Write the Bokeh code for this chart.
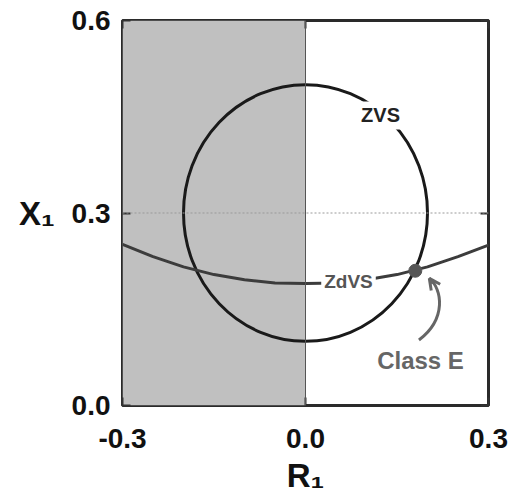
from bokeh.plotting import figure
from bokeh.models import (Range1d, FixedTicker, LinearAxis, Label, Span,
                          BoxAnnotation, Arrow, OpenHead)
from bokeh.embed import file_html
from bokeh.resources import INLINE

# ---- data ----
x_ticks = [-0.3, 0.0, 0.3]
y_ticks = [0.0, 0.3, 0.6]
x_tick_labels = ["-0.3", "0.0", "0.3"]
y_tick_labels = ["0.0", "0.3", "0.6"]
x_title = "R\u2081"
y_title = "X\u2081"

# ZVS circle (centre, diameter)
zvs_cx = [0.0]
zvs_cy = [0.3]
zvs_d = [0.4]

# ZdVS curve
zdvs_r = [-0.3, -0.25, -0.2, -0.15, -0.1, -0.05, 0.0, 0.05, 0.1, 0.15, 0.2, 0.25, 0.3]
zdvs_x = [0.251, 0.232, 0.216, 0.204, 0.196, 0.191, 0.190, 0.191, 0.196, 0.204, 0.216, 0.232, 0.250]

# Class E point
classE_r = [0.18]
classE_x = [0.21]

# Arrow path (start, controls, end) in data units
arr_x0, arr_y0 = [0.186], [0.102]
arr_cx0, arr_cy0 = [0.232], [0.135]
arr_cx1, arr_cy1 = [0.224], [0.182]
arr_x1, arr_y1 = [0.203], [0.198]

FONT = "Liberation Sans"

p = figure(width=512, height=501, x_range=Range1d(-0.3, 0.3), y_range=Range1d(0, 0.6),
           output_backend="svg", toolbar_location=None,
           min_border_left=122, min_border_right=24, min_border_top=20, min_border_bottom=96)
p.grid.visible = False
p.background_fill_color = "white"
p.border_fill_color = "white"
p.outline_line_color = "#2a2a2a"
p.outline_line_width = 3

# shaded half-plane
p.add_layout(BoxAnnotation(left=-0.3, right=0.0, fill_color="#c0c0c0", fill_alpha=1.0,
                           line_color=None, level="underlay"))
p.add_layout(Span(location=0.0, dimension="height", line_color="#555555", line_width=1))
p.add_layout(Span(location=0.3, dimension="width", line_color="#999999", line_width=1,
                  line_dash="2 2"))

# curves
p.ellipse(x=zvs_cx, y=zvs_cy, width=zvs_d, height=zvs_d, fill_color=None,
          line_color="#1a1a1a", line_width=3)
p.line(zdvs_r, zdvs_x, line_color="#3c3c3c", line_width=3)
p.scatter(classE_r, classE_x, size=13, color="#555555")

# arrow
p.bezier(x0=arr_x0, y0=arr_y0, x1=arr_x1, y1=arr_y1, cx0=arr_cx0, cy0=arr_cy0,
         cx1=arr_cx1, cy1=arr_cy1, line_color="#666666", line_width=3)
p.add_layout(Arrow(end=OpenHead(size=11, line_color="#666666", line_width=3),
                   x_start=arr_x1[0] + 0.006, y_start=arr_y1[0] - 0.008,
                   x_end=arr_x1[0], y_end=arr_y1[0], line_color="#666666", line_width=3))

# curve labels
p.add_layout(Label(x=0.123, y=0.452, text="ZVS", text_font=FONT, text_font_style="bold",
                   text_font_size="20px", text_color="#222222", text_align="center",
                   text_baseline="middle", background_fill_color="white", padding=3))
p.add_layout(Label(x=0.0705, y=0.193, text="ZdVS", text_font=FONT, text_font_style="bold",
                   text_font_size="19px", text_color="#555555", text_align="center",
                   text_baseline="middle", background_fill_color="white", padding=3))
p.add_layout(Label(x=0.1885, y=0.070, text="Class E", text_font=FONT, text_font_style="bold",
                   text_font_size="24px", text_color="#666666", text_align="center",
                   text_baseline="middle"))

# axes
for ax in (p.xaxis[0], p.yaxis[0]):
    ax.axis_line_color = None
    ax.major_tick_out = 0
    ax.major_tick_in = 8
    ax.major_tick_line_color = "#333333"
    ax.major_tick_line_width = 2
    ax.minor_tick_line_color = None
    ax.major_label_text_font = FONT
    ax.major_label_text_font_style = "bold"
    ax.major_label_text_font_size = "28px"
    ax.major_label_text_color = "#111111"
    ax.axis_label_text_font = FONT
    ax.axis_label_text_font_style = "bold"
    ax.axis_label_text_font_size = "33px"
    ax.axis_label_text_color = "#111111"
p.xaxis[0].ticker = FixedTicker(ticks=x_ticks)
p.yaxis[0].ticker = FixedTicker(ticks=y_ticks)
p.xaxis[0].major_label_overrides = {t: s for t, s in zip(x_ticks, x_tick_labels)}
p.yaxis[0].major_label_overrides = {t: s for t, s in zip(y_ticks, y_tick_labels)}
p.xaxis[0].major_label_standoff = 23
p.yaxis[0].major_label_standoff = 12
p.xaxis[0].axis_label = x_title
p.yaxis[0].axis_label = y_title
p.yaxis[0].axis_label_orientation = "horizontal"
p.xaxis[0].axis_label_standoff = 6
p.yaxis[0].axis_label_standoff = 14

for side, ticks in (("above", x_ticks), ("right", y_ticks)):
    ax = LinearAxis(ticker=FixedTicker(ticks=ticks), axis_line_color=None, major_tick_out=0,
                    major_tick_in=8, major_tick_line_color="#333333", major_tick_line_width=2,
                    minor_tick_line_color=None, major_label_standoff=0,
                    major_label_overrides={t: "" for t in ticks})
    p.add_layout(ax, side)

open("out.html", "w").write(file_html(p, INLINE))
